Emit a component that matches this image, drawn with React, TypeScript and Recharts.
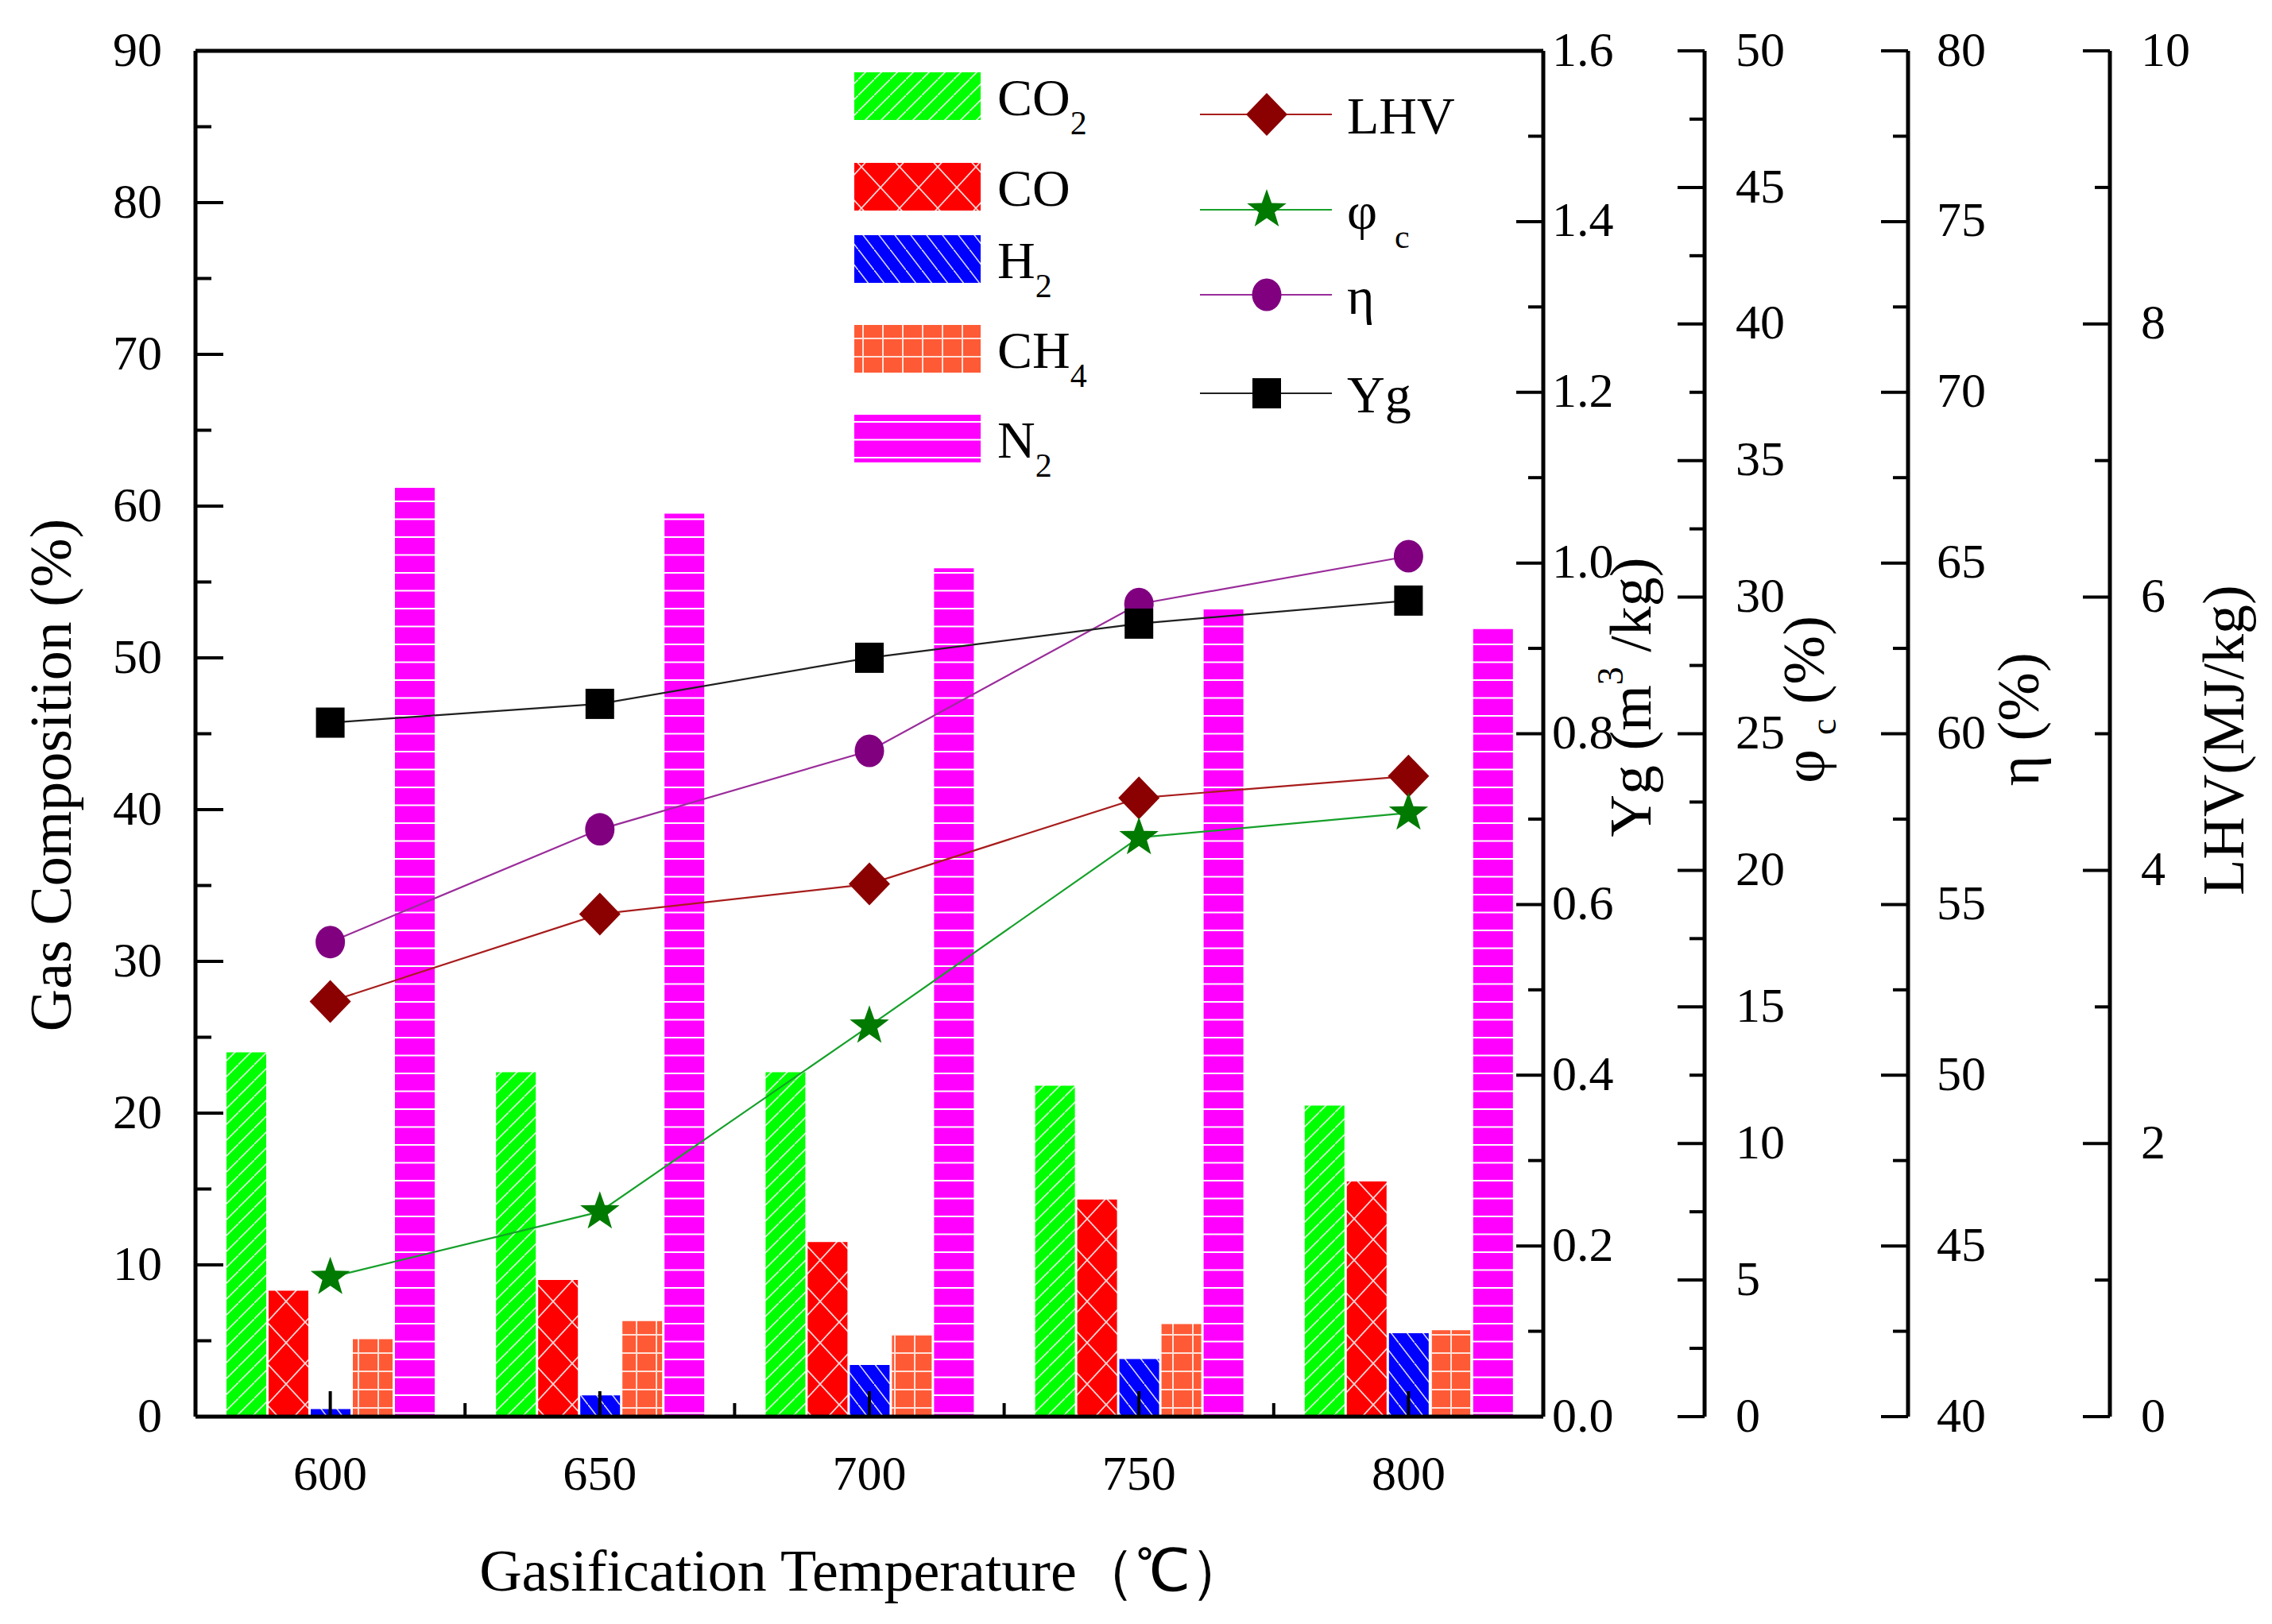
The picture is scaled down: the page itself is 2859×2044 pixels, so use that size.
import React from "react";
import {
  ComposedChart,
  Bar,
  Line,
  XAxis,
  YAxis,
  Legend,
  ReferenceLine,
} from "recharts";

// gasification temperature (℃)
const temps = ["600", "650", "700", "750", "800"];

// gas composition (%)
const co2 = [24.0, 22.7, 22.7, 21.8, 20.5];
const co = [8.3, 9.0, 11.5, 14.3, 15.5];
const h2 = [0.5, 1.4, 3.4, 3.8, 5.5];
const ch4 = [5.1, 6.3, 5.4, 6.1, 5.7];
const n2 = [61.2, 59.5, 55.9, 53.2, 51.9];

// performance indicators, each on its own axis
const yg = [0.813, 0.835, 0.889, 0.929, 0.956]; // m3/kg
const phiC = [5.1, 7.5, 14.3, 21.2, 22.1]; // %
const eta = [53.9, 57.2, 59.5, 63.8, 65.2]; // %
const lhv = [3.04, 3.68, 3.9, 4.53, 4.69]; // MJ/kg

// axis ticks (majors carry a label, the rest are minor marks)
const gasTicks = [0, 5, 10, 15, 20, 25, 30, 35, 40, 45, 50, 55, 60, 65, 70, 75, 80, 85, 90];
const ygTicks = [0, 0.1, 0.2, 0.3, 0.4, 0.5, 0.6, 0.7, 0.8, 0.9, 1.0, 1.1, 1.2, 1.3, 1.4, 1.5, 1.6];
const phiTicks = [0, 2.5, 5, 7.5, 10, 12.5, 15, 17.5, 20, 22.5, 25, 27.5, 30, 32.5, 35, 37.5, 40, 42.5, 45, 47.5, 50];
const etaTicks = [40, 42.5, 45, 47.5, 50, 52.5, 55, 57.5, 60, 62.5, 65, 67.5, 70, 72.5, 75, 77.5, 80];
const lhvTicks = [0, 1, 2, 3, 4, 5, 6, 7, 8, 9, 10];

const data = temps.map((temp, i) => ({
  temp,
  co2: co2[i],
  co: co[i],
  h2: h2[i],
  ch4: ch4[i],
  n2: n2[i],
  lhv: lhv[i],
  phiC: phiC[i],
  eta: eta[i],
  yg: yg[i],
}));

const W = 2859;
const H = 2044;
const LEFT_W = 246;
const YG_W = 203;
const PHI_W = 256;
const ETA_W = 254;
const LHV_W = 204;
const X_H = 261;
const PLOT_W = W - LEFT_W - YG_W - PHI_W - ETA_W - LHV_W;
const BAND = PLOT_W / temps.length;

const FONT = "'Liberation Serif', 'Times New Roman', serif";
const TICK_FS = 62;
const TITLE_FS = 74;

// right axes are stacked outwards in id order, so the ids carry a prefix
const AX_YG = "r1-yg";
const AX_PHI = "r2-phi";
const AX_ETA = "r3-eta";
const AX_LHV = "r4-lhv";

const gasSeries = [
  { key: "co2", name: "CO2", color: "#00FF00", main: "CO", sub: "2" },
  { key: "co", name: "CO", color: "#FF0000", main: "CO", sub: "" },
  { key: "h2", name: "H2", color: "#0000FF", main: "H", sub: "2" },
  { key: "ch4", name: "CH4", color: "#FF5A36", main: "CH", sub: "4" },
  { key: "n2", name: "N2", color: "#FF00FF", main: "N", sub: "2" },
];

const lineSeries = [
  { key: "lhv", name: "LHV", axis: AX_LHV, stroke: "#A81C1C", fill: "#8B0000", shape: "diamond", main: "LHV", sub: "" },
  { key: "phiC", name: "φc", axis: AX_PHI, stroke: "#16A02A", fill: "#007A00", shape: "star", main: "φ", sub: "c" },
  { key: "eta", name: "η", axis: AX_ETA, stroke: "#9A2C9A", fill: "#800080", shape: "circle", main: "η", sub: "" },
  { key: "yg", name: "Yg", axis: AX_YG, stroke: "#202020", fill: "#000000", shape: "square", main: "Yg", sub: "" },
];

function starPoints(cx: number, cy: number, R: number, r: number) {
  const pts: string[] = [];
  for (let i = 0; i < 10; i++) {
    const a = -Math.PI / 2 + (i * Math.PI) / 5;
    const rad = i % 2 === 0 ? R : r;
    pts.push(`${cx + rad * Math.cos(a)},${cy + rad * Math.sin(a)}`);
  }
  return pts.join(" ");
}

function Marker({ shape, cx, cy, fill }: { shape: string; cx: number; cy: number; fill: string }) {
  if (cx == null || cy == null) return null;
  switch (shape) {
    case "diamond":
      return <polygon points={`${cx},${cy - 27} ${cx + 26},${cy} ${cx},${cy + 27} ${cx - 26},${cy}`} fill={fill} />;
    case "star":
      return <polygon points={starPoints(cx, cy, 26, 10.5)} fill={fill} />;
    case "circle":
      return <ellipse cx={cx} cy={cy} rx={18.5} ry={20.5} fill={fill} />;
    default:
      return <rect x={cx - 18} y={cy - 19} width={36} height={38} fill={fill} />;
  }
}

function Patterns() {
  return (
    <defs>
      <pattern id="pat-co2" patternUnits="userSpaceOnUse" width={20} height={20}>
        <rect width={20} height={20} fill="#00FF00" />
        <path d="M0,20 L20,0" stroke="#fff" strokeWidth={1.6} strokeOpacity={0.85} />
      </pattern>
      <pattern id="pat-co" patternUnits="userSpaceOnUse" width={48} height={52}>
        <rect width={48} height={52} fill="#FF0000" />
        <path d="M0,0 L48,52 M48,0 L0,52" stroke="#fff" strokeWidth={1.8} strokeOpacity={0.85} />
      </pattern>
      <pattern id="pat-h2" patternUnits="userSpaceOnUse" width={20} height={26}>
        <rect width={20} height={26} fill="#0000FF" />
        <path d="M0,0 L20,26" stroke="#fff" strokeWidth={1.6} strokeOpacity={0.85} />
      </pattern>
      <pattern id="pat-ch4" patternUnits="userSpaceOnUse" width={25} height={23}>
        <rect width={25} height={23} fill="#FF5A36" />
        <path d="M0,1 H25 M1,0 V23" stroke="#FFE0D8" strokeWidth={2} />
      </pattern>
      <pattern id="pat-n2" patternUnits="userSpaceOnUse" width={10} height={22.5}>
        <rect width={10} height={22.5} fill="#FF00FF" />
        <path d="M0,1 H10" stroke="#fff" strokeWidth={2} />
      </pattern>
    </defs>
  );
}

function LeftTick({ x, y, payload }: any) {
  const v = payload.value;
  const major = v % 10 === 0;
  return (
    <g>
      <line x1={x} x2={x + (major ? 35 : 20)} y1={y} y2={y} stroke="#000" strokeWidth={4} />
      {major && (
        <text x={x - 42} y={y} dy="0.3em" textAnchor="end" fontFamily={FONT} fontSize={TICK_FS} fill="#000">
          {v}
        </text>
      )}
    </g>
  );
}

function RightTick({ x, y, payload, isMajor, format, gap }: any) {
  const v = payload.value;
  const major = isMajor(v);
  return (
    <g>
      <line x1={x} x2={x - (major ? 34 : 19)} y1={y} y2={y} stroke="#000" strokeWidth={4} />
      {major && (
        <text x={x + gap} y={y} dy="0.3em" textAnchor="start" fontFamily={FONT} fontSize={TICK_FS} fill="#000">
          {format(v)}
        </text>
      )}
    </g>
  );
}

function BottomTick({ x, y, payload, index }: any) {
  return (
    <g>
      <line x1={x} x2={x} y1={y} y2={y - 32} stroke="#000" strokeWidth={4} />
      {index < temps.length - 1 && (
        <line x1={x + BAND / 2} x2={x + BAND / 2} y1={y} y2={y - 17} stroke="#000" strokeWidth={4} />
      )}
      <text x={x} y={y + 92} textAnchor="middle" fontFamily={FONT} fontSize={TICK_FS} fill="#000">
        {payload.value}
      </text>
    </g>
  );
}

function VTitle({ viewBox, dx, dy, children }: any) {
  const vb = viewBox || { x: 0, y: 0, width: 0, height: 0 };
  const cx = vb.x + dx;
  const cy = vb.y + vb.height / 2 + dy;
  return (
    <text
      x={cx}
      y={cy}
      transform={`rotate(-90, ${cx}, ${cy})`}
      textAnchor="middle"
      dominantBaseline="central"
      fontFamily={FONT}
      fontSize={TITLE_FS}
      fill="#000"
    >
      {children}
    </text>
  );
}

function XTitle({ viewBox }: any) {
  const vb = viewBox || { x: 0, y: 0, width: 0, height: 0 };
  return (
    <text x={vb.x + vb.width / 2 - 7} y={vb.y + 219} textAnchor="middle" fontFamily={FONT} fontSize={TITLE_FS} fill="#000">
      Gasification Temperature（℃）
    </text>
  );
}

// legend rows (px inside the legend box)
const barRows = [41, 155, 246, 359, 472];
const lineRows = [64, 184, 291, 415];

function LegendLabel({ x, y, main, sub, subGap }: any) {
  return (
    <text x={x} y={y + 24} fontFamily={FONT} fontSize={66} fill="#000">
      {main}
      {sub && (
        <tspan dx={subGap || 0} dy={24} fontSize={42}>
          {sub}
        </tspan>
      )}
    </text>
  );
}

function renderLegend(props: any) {
  const payload: any[] = props.payload || [];
  const keys = payload.map((p) => p.dataKey);
  const bars = keys.length ? gasSeries.filter((s) => keys.includes(s.key)) : gasSeries;
  const lines = keys.length ? lineSeries.filter((s) => keys.includes(s.key)) : lineSeries;
  return (
    <svg width={720} height={540} style={{ overflow: "visible", display: "block" }}>
      <Patterns />
      {bars.map((s, i) => (
        <g key={s.key}>
          <rect x={15} y={barRows[i] - 30} width={159} height={60} fill={`url(#pat-${s.key}) ${s.color}`} />
          <LegendLabel x={195} y={barRows[i]} main={s.main} sub={s.sub} />
        </g>
      ))}
      {lines.map((s, i) => (
        <g key={s.key}>
          <line x1={450} x2={616} y1={lineRows[i]} y2={lineRows[i]} stroke={s.stroke} strokeWidth={2.2} />
          <Marker shape={s.shape} cx={534} cy={lineRows[i]} fill={s.fill} />
          <LegendLabel x={635} y={lineRows[i]} main={s.main} sub={s.sub} subGap={s.sub ? 22 : 0} />
        </g>
      ))}
    </svg>
  );
}

const fmt1 = (v: number) => v.toFixed(1);
const fmt0 = (v: number) => String(v);

export default function App() {
  return (
    <div style={{ position: "absolute", left: 0, top: 0, width: W, height: H, background: "#fff" }}>
      <ComposedChart
        width={W}
        height={H}
        data={data}
        margin={{ top: 64, right: 0, bottom: 0, left: 0 }}
        barGap={3}
        barSize={50}
      >
        {gasSeries.map((s) => (
          <Bar
            key={s.key}
            dataKey={s.key}
            name={s.name}
            yAxisId="gas"
            fill={`url(#pat-${s.key}) ${s.color}`}
            isAnimationActive={false}
          />
        ))}
        {lineSeries.map((s) => (
          <Line
            key={s.key}
            dataKey={s.key}
            name={s.name}
            yAxisId={s.axis}
            stroke={s.stroke}
            strokeWidth={2.2}
            type="linear"
            dot={(p: any) => <Marker key={`${s.key}-${p.index}`} shape={s.shape} cx={p.cx} cy={p.cy} fill={s.fill} />}
            activeDot={false}
            isAnimationActive={false}
          />
        ))}
        <ReferenceLine y={90} yAxisId="gas" stroke="#000" strokeWidth={5} />
        <XAxis
          dataKey="temp"
          height={X_H}
          interval={0}
          tickSize={0}
          tickMargin={0}
          tickLine={false}
          axisLine={{ stroke: "#000", strokeWidth: 5 }}
          tick={<BottomTick />}
          label={(p: any) => <XTitle {...p} />}
        />
        <YAxis
          yAxisId="gas"
          orientation="left"
          width={LEFT_W}
          domain={[0, 90]}
          ticks={gasTicks}
          interval={0}
          tickSize={0}
          tickMargin={0}
          tickLine={false}
          axisLine={{ stroke: "#000", strokeWidth: 5 }}
          tick={<LeftTick />}
          label={(p: any) => (
            <VTitle {...p} dx={64} dy={52}>
              Gas Composition (%)
            </VTitle>
          )}
        />
        <YAxis
          yAxisId={AX_YG}
          orientation="right"
          width={YG_W}
          domain={[0, 1.6]}
          ticks={ygTicks}
          interval={0}
          tickSize={0}
          tickMargin={0}
          tickLine={false}
          axisLine={{ stroke: "#000", strokeWidth: 5 }}
          tick={<RightTick isMajor={(v: number) => Math.round(v * 10) % 2 === 0} format={fmt1} gap={11} />}
          label={(p: any) => (
            <VTitle {...p} dx={110} dy={-46}>
              Yg (m
              <tspan dy={-26} fontSize={46}>
                3
              </tspan>
              <tspan dy={26}> /kg)</tspan>
            </VTitle>
          )}
        />
        <YAxis
          yAxisId={AX_PHI}
          orientation="right"
          width={PHI_W}
          domain={[0, 50]}
          ticks={phiTicks}
          interval={0}
          tickSize={0}
          tickMargin={0}
          tickLine={false}
          axisLine={{ stroke: "#000", strokeWidth: 5 }}
          tick={<RightTick isMajor={(v: number) => v % 5 === 0} format={fmt0} gap={39} />}
          label={(p: any) => (
            <VTitle {...p} dx={125} dy={-43}>
              φ
              <tspan dx={18} dy={24} fontSize={46}>
                c
              </tspan>
              <tspan dy={-24}> (%)</tspan>
            </VTitle>
          )}
        />
        <YAxis
          yAxisId={AX_ETA}
          orientation="right"
          width={ETA_W}
          domain={[40, 80]}
          ticks={etaTicks}
          interval={0}
          tickSize={0}
          tickMargin={0}
          tickLine={false}
          axisLine={{ stroke: "#000", strokeWidth: 5 }}
          tick={<RightTick isMajor={(v: number) => v % 5 === 0} format={fmt0} gap={36} />}
          label={(p: any) => (
            <VTitle {...p} dx={139} dy={-18}>
              η (%)
            </VTitle>
          )}
        />
        <YAxis
          yAxisId={AX_LHV}
          orientation="right"
          width={LHV_W}
          domain={[0, 10]}
          ticks={lhvTicks}
          interval={0}
          tickSize={0}
          tickMargin={0}
          tickLine={false}
          axisLine={{ stroke: "#000", strokeWidth: 5 }}
          tick={<RightTick isMajor={(v: number) => v % 2 === 0} format={fmt0} gap={39} />}
          label={(p: any) => (
            <VTitle {...p} dx={143} dy={8}>
              LHV(MJ/kg)
            </VTitle>
          )}
        />
        <Legend
          layout="vertical"
          align="center"
          verticalAlign="middle"
          content={renderLegend}
          wrapperStyle={{ left: 1060, top: 80, width: 720, height: 540 }}
        />
      </ComposedChart>
    </div>
  );
}
